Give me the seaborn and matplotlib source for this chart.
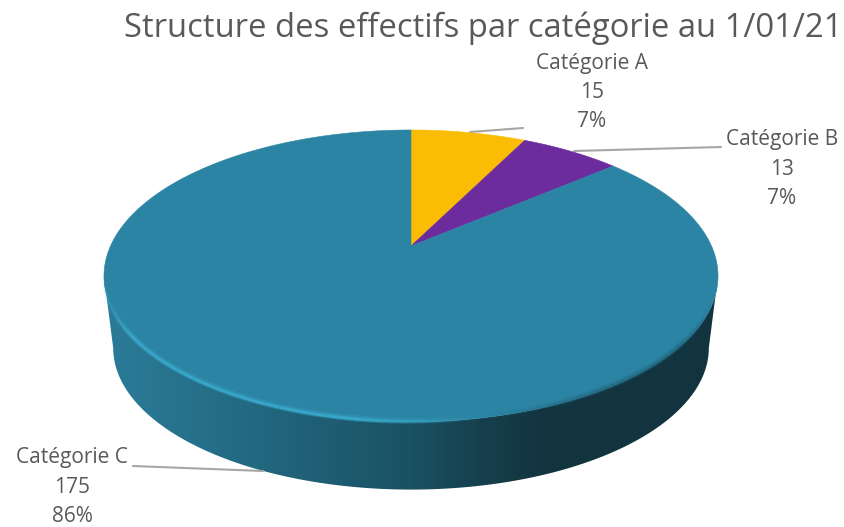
import numpy as np
import matplotlib
matplotlib.use("Agg")
import matplotlib.pyplot as plt
from matplotlib.collections import LineCollection
from matplotlib.colors import LinearSegmentedColormap, to_rgba
from matplotlib.patches import Polygon
import seaborn as sns

# donnees
categories = ["Catégorie A", "Catégorie B", "Catégorie C"]
effectifs = [15, 13, 175]
pourcents = ["7%", "7%", "86%"]
titre = "Structure des effectifs par catégorie au 1/01/21"

sns.set_theme(style="white")
plt.rcParams['font.family'] = ['Open Sans', 'DejaVu Sans']
couleurs = sns.color_palette(["#fbbc04", "#6d2c9e", "#2b84a3"])
gris = "#595959"

fig, ax = plt.subplots(figsize=(8.45, 5.27), dpi=100)
fig.subplots_adjust(0, 0, 1, 1)

# le camembert donne les angles, la perspective est appliquee ensuite
wedges, _ = ax.pie(effectifs, colors=couleurs, startangle=90, counterclock=False)

CX, CY = 411, 246
K = 0.205


def projette(theta, echelle=1.0, dy=0.0):
    u, v = np.cos(np.radians(theta)), np.sin(np.radians(theta))
    d = 1 + K * v
    return CX + echelle * 300.5 * u / d, CY + dy - echelle * 139.8 * v / d


# flanc avec degrade
th_av = np.linspace(180 + np.degrees(np.arcsin(K)), 360 - np.degrees(np.arcsin(K)), 300)
xh, yh = projette(th_av)
xb, yb = projette(th_av, 0.97, 73)
flanc = Polygon(np.r_[np.c_[xh, yh], np.c_[xb, yb][::-1]], closed=True, fc="none", ec="none",
                transform=ax.transData)
ax.add_patch(flanc)
cmap = LinearSegmentedColormap.from_list("flanc", [(0, "#2b7c99"), (0.25, "#226880"), (0.5, "#1a5163"),
                                                   (0.62, "#163f4d"), (0.72, "#12343f"), (1, "#12343f")])
img = ax.imshow(np.linspace(0, 1, 400)[None, :], cmap=cmap, extent=(103, 717, 500, 270), aspect="auto", zorder=1)
img.set_clip_path(flanc)

# lignes de rappel
rappels = [([470, 523], [132, 128]), ([574, 721], [151, 147]), ([133, 263], [466, 471])]
for xs, ys in rappels:
    ax.plot(xs, ys, color="#a6a6a6", lw=1.5, zorder=1.5)

# face superieure
for w in wedges:
    th = np.linspace(w.theta1, w.theta2, 200)
    x, y = projette(th)
    ax.fill(np.r_[CX, x], np.r_[CY, y], color=w.get_facecolor(), lw=0.4, zorder=2)
    w.remove()

# arete: reflet clair a gauche, ombre a droite
th_r = np.linspace(192, 345, 300)
xr, yr = projette(th_r)
pts = np.c_[xr, yr]
segs = np.stack([pts[:-1], pts[1:]], axis=1)
cols = []
for x in xr[:-1]:
    if x < 480:
        a = np.clip((x - 103) / 30, 0, 1) * np.clip((480 - x) / 120, 0, 1)
        cols.append(to_rgba("#38a6c8", a))
    else:
        a = np.clip((x - 480) / 120, 0, 1) * np.clip((712 - x) / 30, 0, 1) * 0.6
        cols.append(to_rgba("#1f6279", a))
halo = [(r, g, b, a * 0.35) for r, g, b, a in cols]
ax.add_collection(LineCollection(segs - [0, 1], colors=halo, linewidths=4.5, zorder=3))
ax.add_collection(LineCollection(segs - [0, 0.5], colors=cols, linewidths=2.2, zorder=3))

# etiquettes
positions = [(592, 63), (782, 140), (72, 458)]
for (x, y), cat, n, p in zip(positions, categories, effectifs, pourcents):
    for i, txt in enumerate([cat, str(n), p]):
        ax.text(x, y + i * 29.3, txt, ha="center", va="center", fontsize=15, color=gris, zorder=4)

ax.text(483.5, 28, titre, ha="center", va="center", fontsize=23.6, color=gris, zorder=4)

ax.set_aspect("auto")
ax.set_xlim(0, 845)
ax.set_ylim(527, 0)
ax.axis("off")

fig.savefig("out.png", dpi=100)
